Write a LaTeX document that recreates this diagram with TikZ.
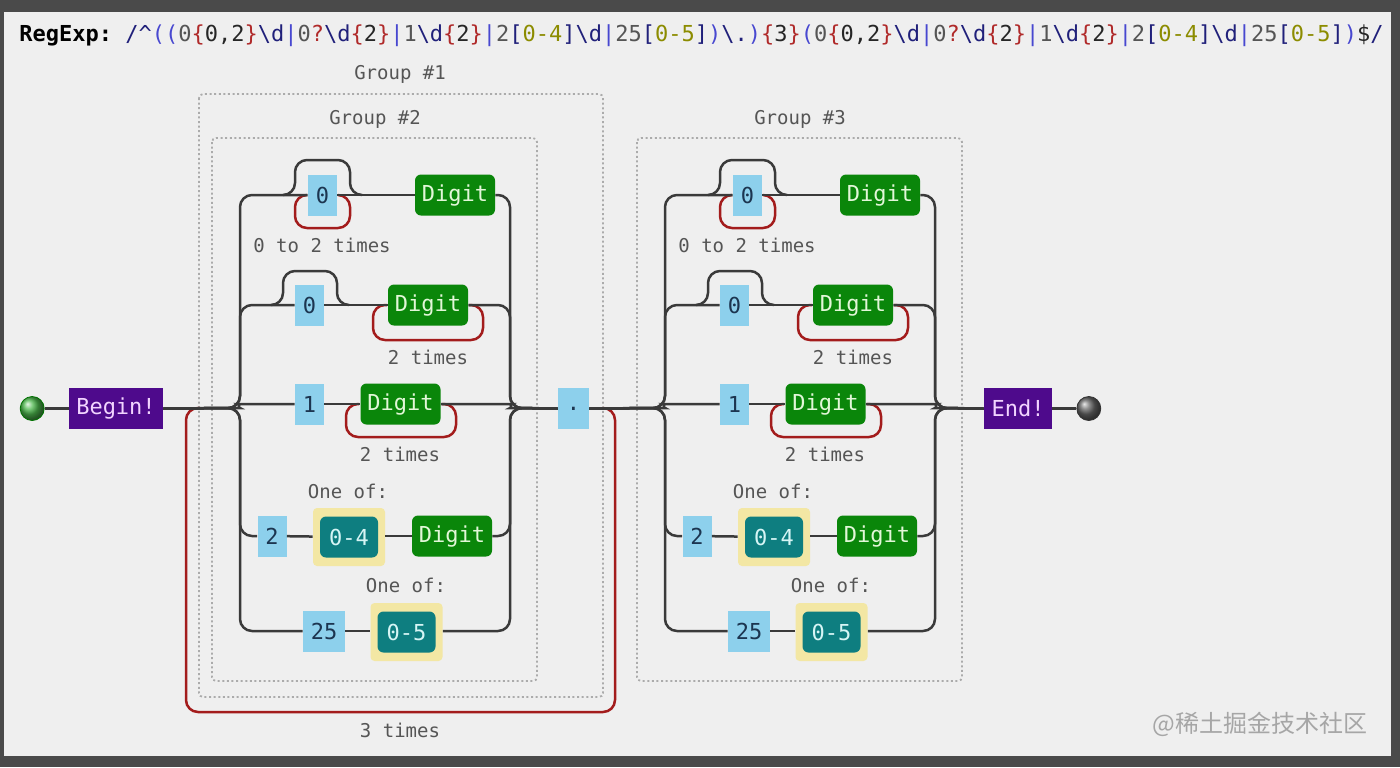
\documentclass[tikz,border=0pt]{standalone}
\usepackage{fontspec}
\setmonofont{DejaVu Sans Mono}
\newfontfamily\cjkfont{Noto Sans CJK SC}
\usetikzlibrary{positioning}
\definecolor{frame}{HTML}{4A4A4A}
\definecolor{card}{HTML}{EFEFEF}
\definecolor{railc}{HTML}{3A3A3A}
\definecolor{repred}{HTML}{A31C1C}
\definecolor{grpgray}{HTML}{ABABAB}
\definecolor{notegray}{HTML}{555555}
\definecolor{litblue}{HTML}{8DD0EC}
\definecolor{littext}{HTML}{1C3550}
\definecolor{digitg}{HTML}{0A860A}
\definecolor{digitt}{HTML}{E2F7D8}
\definecolor{rngteal}{HTML}{0E7E80}
\definecolor{rngtext}{HTML}{D6F5F5}
\definecolor{oneofy}{HTML}{F3E7A4}
\definecolor{termv}{HTML}{4E0A8C}
\definecolor{termt}{HTML}{F2D4FF}
\definecolor{wmgray}{HTML}{A6A6A6}
\definecolor{startg}{HTML}{4CB84C}
\definecolor{rxblue}{HTML}{4848D0}
\definecolor{rxnavy}{HTML}{20207A}
\definecolor{rxred}{HTML}{B02A2A}
\definecolor{rxlit}{HTML}{555555}
\definecolor{rxolive}{HTML}{8C8C00}
\definecolor{rxdark}{HTML}{262626}
\newcommand\rxB[1]{\textcolor{rxblue}{#1}}
\newcommand\rxN[1]{\textcolor{rxnavy}{#1}}
\newcommand\rxR[1]{\textcolor{rxred}{#1}}
\newcommand\rxL[1]{\textcolor{rxlit}{#1}}
\newcommand\rxO[1]{\textcolor{rxolive}{#1}}
\newcommand\rxK[1]{\textcolor{rxdark}{#1}}
\newcommand\rxoctet{\rxL{0}\rxR{\{}\rxK{0,2}\rxR{\}}\rxN{\textbackslash d}\rxB{|}\rxL{0}\rxR{?}\rxN{\textbackslash d}\rxR{\{}\rxK{2}\rxR{\}}\rxB{|}\rxL{1}\rxN{\textbackslash d}\rxR{\{}\rxK{2}\rxR{\}}\rxB{|}\rxL{2}\rxN{[}\rxO{0-4}\rxN{]\textbackslash d}\rxB{|}\rxL{25}\rxN{[}\rxO{0-5}\rxN{]}}
\tikzset{rail/.style={draw=railc,line width=1.25pt,rounded corners=6pt},rep/.style={draw=repred,line width=1.25pt,rounded corners=6pt},grp/.style={draw=grpgray,line width=0.9pt,dash pattern=on 1pt off 1.3pt,rounded corners=2pt},lit/.style={fill=litblue,text=littext,minimum width=14.5pt,minimum height=20.5pt,inner sep=0pt,font=\ttfamily\fontsize{11}{13}\selectfont},digit/.style={fill=digitg,text=digitt,rounded corners=3pt,minimum width=40pt,minimum height=20.5pt,inner sep=0pt,font=\ttfamily\fontsize{11}{13}\selectfont},oneof/.style={fill=oneofy,rounded corners=2pt,minimum width=36pt,minimum height=29pt,inner sep=0pt},rng/.style={fill=rngteal,text=rngtext,rounded corners=3pt,minimum width=29pt,minimum height=20.5pt,inner sep=0pt,font=\ttfamily\fontsize{11}{13}\selectfont},term/.style={fill=termv,text=termt,minimum height=20.5pt,inner sep=0pt,font=\ttfamily\fontsize{11}{13}\selectfont},knob/.style={circle,minimum size=12pt,inner sep=0pt,shading=ball},note/.style={text=notegray,inner sep=0pt,font=\ttfamily\fontsize{9.5}{11}\selectfont}}
% one octet alternation: #1 prefix, #2 x shift, #3 node before, #4 node after, #5 group number
\newcommand\octet[5]{%
\begin{scope}[shift={(#2,0)}]
\draw[grp] (212,138) rectangle (537,681);
\node[note] (#1g) at (375,119) {Group \##5};
\node[lit] (#1z1) at (322.5,195) {0};
\node[digit] (#1d1) at (455,195) {Digit};
\node[note] (#1q1) at (322,245) {0 to 2 times};
\node[lit] (#1z2) at (309.5,305) {0};
\node[digit] (#1d2) at (428,305) {Digit};
\node[note] (#1q2) at (428,357) {2 times};
\node[lit] (#1o3) at (309.5,404) {1};
\node[digit] (#1d3) at (400.5,404) {Digit};
\node[note] (#1q3) at (400,454) {2 times};
\node[note] (#1c4) at (348,491) {One of:};
\node[lit] (#1t4) at (272,536) {2};
\node[oneof] (#1y4) at (349,537) {};
\node[rng] (#1r4) at (#1y4) {0-4};
\node[digit] (#1d4) at (452,536) {Digit};
\node[note] (#1c5) at (406,585) {One of:};
\node[lit,minimum width=21pt] (#1f5) at (324,631) {25};
\node[oneof] (#1y5) at (406.5,632) {};
\node[rng] (#1r5) at (#1y5) {0-5};
% repeats
\draw[rep] (307,195) -| (295,228) -| (350,195) -- (338,195);
\draw[rep] (387,305) -| (373,340) -| (483,305) -- (469,305);
\draw[rep] (359,404) -| (346,437) -| (456,404) -- (442,404);
% skips
\draw[rail] (283,195) -- (295,195) -- (295,160) -- (350,160) -- (350,195) -- (362,195);
\draw[rail] (271,305) -- (283,305) -- (283,271) -- (337,271) -- (337,305) -- (349,305);
% branches
\draw[rail] (#3.east) -- (240,408) |- (#1z1.west);
\draw[rail] (#1z1) -- (#1d1);
\draw[rail] (#1d1.east) -| (510,408) -- (#4.west);
\draw[rail] (#3.east) -- (240,408) |- (#1z2.west);
\draw[rail] (#1z2) -- (#1d2);
\draw[rail] (#1d2.east) -| (510,408) -- (#4.west);
\draw[rail] (#3.east) -- (228,408) to[out=0,in=180] (250,404) -- (#1o3.west);
\draw[rail] (#1o3) -- (#1d3);
\draw[rail] (#1d3.east) -- (500,404) to[out=0,in=180] (522,408) -- (#4.west);
\draw[rail] (#3.east) -- (240,408) |- (#1t4.west);
\draw[rail] (#1t4) -- (#1y4);
\draw[rail] (#1y4.east |- #1d4) -- (#1d4);
\draw[rail] (#1d4.east) -| (510,408) -- (#4.west);
\draw[rail] (#3.east) -- (240,408) |- (#1f5.west);
\draw[rail] (#1f5) -- (#1y5.west |- #1f5);
\draw[rail] (#1y5.east |- #1f5) -| (510,408) -- (#4.west);
\end{scope}}

\begin{document}
\begin{tikzpicture}[x=0.5pt,y=-0.5pt]
\useasboundingbox (0,0) rectangle (1400,767);
\fill[frame] (0,0) rectangle (1400,767);
\fill[card] (4,12) rectangle (1391,756);

\node[anchor=west,inner sep=0pt,font=\ttfamily\fontsize{11}{13}\selectfont] (rx) at (19,36) {{\bfseries RegExp:}~\rxN{/\textasciicircum}\rxB{((}\rxoctet\rxB{)}\rxN{\textbackslash.}\rxB{)}\rxR{\{}\rxK{3}\rxR{\}}\rxB{(}\rxoctet\rxB{)}\rxK{\$}\rxN{/}};

\draw[grp] (199,94) rectangle (603,697);
\node[note] (g1) at (400,74) {Group \#1};
\node[note] (rep3) at (400,730) {3 times};

\node[term,minimum width=47pt] (begin) at (116,408.5) {Begin!};
\node[knob,ball color=startg,draw=green!45!black,left=12pt of begin] (st) {};
\node[lit,minimum width=15.5pt] (dot) at (573.5,408.5) {.};
\node[term,minimum width=34pt] (endbox) at (1018,408.5) {End!};
\node[knob,ball color=gray!80!black,draw=black!80,right=12pt of endbox] (fin) {};

\draw[rep] (200,408) -| (186,712) -| (615,408) -- (603,408);
\draw[rail] (st) -- (begin);
\draw[rail] (endbox) -- (fin);

\octet{a}{0}{begin}{dot}{2}
\octet{b}{425}{dot}{endbox}{3}

\node[text=wmgray,inner sep=0pt,font=\cjkfont\fontsize{12}{14}\selectfont] (wm) at (1260,724) {@稀土掘金技术社区};
\end{tikzpicture}
\end{document}
